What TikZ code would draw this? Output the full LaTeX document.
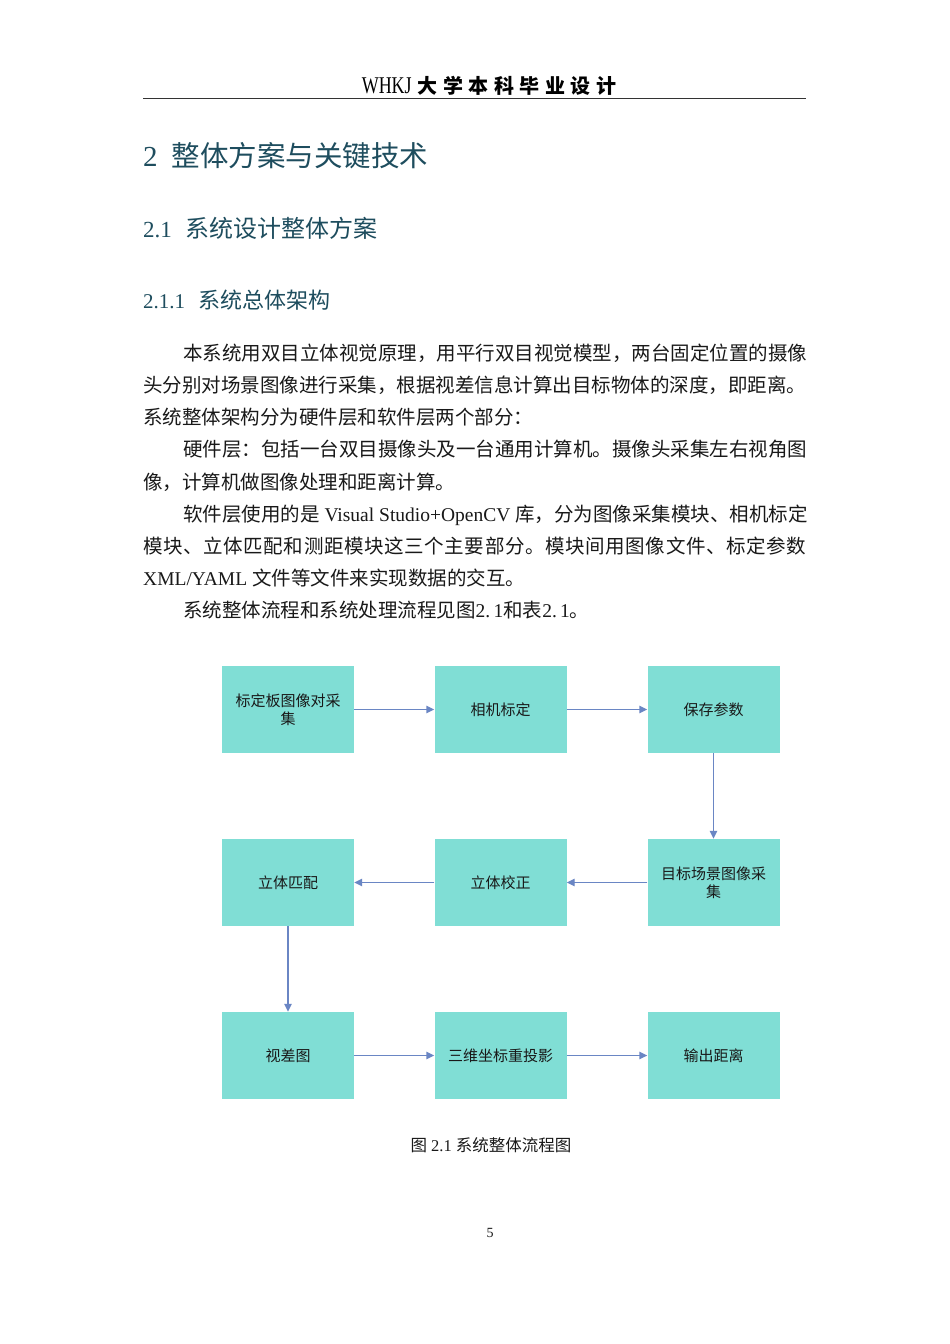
\documentclass[tikz,border=0pt]{standalone}
\usepackage{fontspec}
\setmainfont{Liberation Serif}
\newfontfamily\cjk{Noto Sans CJK SC}
\newfontfamily\condserif[FakeStretch=0.75]{Liberation Serif}
\usetikzlibrary{arrows.meta}
\definecolor{boxc}{RGB}{128,222,213}
\definecolor{arrc}{RGB}{106,134,196}
\definecolor{headc}{RGB}{30,77,94}
\definecolor{txtc}{RGB}{25,25,25}
\newcommand\zh[1]{{\cjk #1}}
\def\spreadloop#1{\ifx#1\relax\else#1\hspace{0pt plus 1pt}\expandafter\spreadloop\fi}
\newcommand\spreadit[1]{\spreadloop#1\relax\unskip}
\newcommand\fullline[2]{\makebox[#1][s]{\cjk\spreadit{#2}}}
\tikzset{
  stepbox/.style={rectangle, fill=boxc, minimum width=132pt, minimum height=87pt, inner sep=0pt, align=center, text=txtc, font=\cjk\fontsize{15}{18}\selectfont},
  flow/.style={draw=arrc, line width=1.4pt, -{Triangle[length=8pt,width=7.5pt]}},
  bodyline/.style={anchor=base west, inner sep=0pt, text=txtc, font=\fontsize{19.5}{24}\selectfont},
  headline/.style={anchor=base west, inner sep=0pt, text=headc}
}
\begin{document}
\begin{tikzpicture}[x=1pt,y=-1pt]
\useasboundingbox (0,0) rectangle (950,1344);
\fill[white] (0,0) rectangle (950,1344);

% page header
\node[anchor=base, inner sep=0pt, text=black] (hdr) at (489,93)
  {\condserif\fontsize{24}{28}\selectfont WHKJ\hspace{6pt}\cjk\bfseries\fontsize{20}{24}\selectfont 大\hspace{5.5pt}学\hspace{5.5pt}本\hspace{5.5pt}科\hspace{5.5pt}毕\hspace{5.5pt}业\hspace{5.5pt}设\hspace{5.5pt}计};
\coordinate (rl) at (143,98.5);
\coordinate (rr) at (806,98.5);
\draw[line width=1.4pt, black!80] (rl) -- (rr);

% headings
\node[headline, font=\fontsize{29}{35}\selectfont] (h1) at (143,166) {2\hspace{14pt}\zh{\fontsize{28.5}{35}\selectfont 整体方案与关键技术}};
\node[headline, font=\fontsize{23}{28}\selectfont] (h2) at (143,237) {2.1\hspace{14pt}\zh{\fontsize{24}{28}\selectfont 系统设计整体方案}};
\node[headline, font=\fontsize{21}{26}\selectfont] (h3) at (143,308) {2.1.1\hspace{13pt}\zh{\fontsize{22}{26}\selectfont 系统总体架构}};

% body text
\node[bodyline] (l1) at (183,360) {\zh{本系统用双目立体视觉原理，用平行双目视觉模型，两台固定位置的摄像}};
\node[bodyline] (l2) at (143,392) {\zh{头分别对场景图像进行采集，根据视差信息计算出目标物体的深度，即距离。}};
\node[bodyline] (l3) at (143,424) {\zh{系统整体架构分为硬件层和软件层两个部分：}};
\node[bodyline] (l4) at (183,456.5) {\zh{硬件层：包括一台双目摄像头及一台通用计算机。摄像头采集左右视角图}};
\node[bodyline] (l5) at (143,489) {\zh{像，计算机做图像处理和距离计算。}};
\node[bodyline] (l6) at (183,521) {\zh{软件层使用的是} Visual Studio+OpenCV \zh{库，分为图像采集模块、相机标定}};
\node[bodyline] (l7) at (143,553) {\fullline{663pt}{模块、立体匹配和测距模块这三个主要部分。模块间用图像文件、标定参数}};
\node[bodyline] (l8) at (143,585) {XML/YAML \zh{文件等文件来实现数据的交互。}};
\node[bodyline] (l9) at (183,617) {\zh{系统整体流程和系统处理流程见图}2.\,1\zh{和表}2.\,1\zh{。}};

% flow chart boxes
\node[stepbox] (b1) at (288,709.5)   {标定板图像对采\\集};
\node[stepbox] (b2) at (500.5,709.5) {相机标定};
\node[stepbox] (b3) at (713.5,709.5) {保存参数};
\node[stepbox] (b4) at (288,882.5)   {立体匹配};
\node[stepbox] (b5) at (500.5,882.5) {立体校正};
\node[stepbox] (b6) at (713.5,882.5) {目标场景图像采\\集};
\node[stepbox] (b7) at (288,1055.5)  {视差图};
\node[stepbox] (b8) at (500.5,1055.5){三维坐标重投影};
\node[stepbox] (b9) at (713.5,1055.5){输出距离};

% connectors
\draw[flow] (b1.east) -- (b2.west);
\draw[flow] (b2.east) -- (b3.west);
\draw[flow] (b3.south) -- (b6.north);
\draw[flow] (b6.west) -- (b5.east);
\draw[flow] (b5.west) -- (b4.east);
\draw[flow] (b4.south) -- (b7.north);
\draw[flow] (b7.east) -- (b8.west);
\draw[flow] (b8.east) -- (b9.west);

% caption and page number
\node[anchor=base, inner sep=0pt, text=txtc, font=\fontsize{16.5}{20}\selectfont] (cap) at (491,1151.5) {\zh{图} 2.1 \zh{系统整体流程图}};
\node[anchor=base, inner sep=0pt, text=txtc, font=\fontsize{14}{17}\selectfont] (pg) at (490,1237) {5};
\end{tikzpicture}
\end{document}
